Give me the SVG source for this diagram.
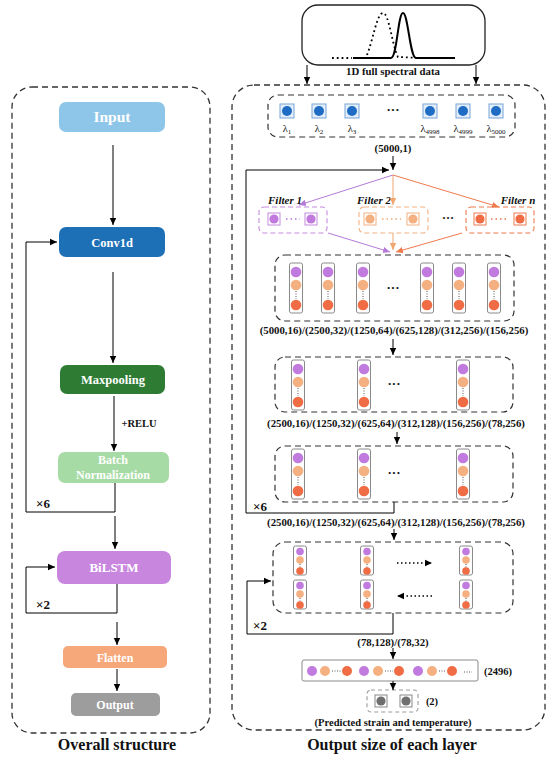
<svg xmlns="http://www.w3.org/2000/svg" xmlns:xlink="http://www.w3.org/1999/xlink" width="550" height="759" viewBox="0 0 550 759">
<style>
.panel{fill:none;stroke:#333;stroke-width:1.3;stroke-dasharray:6 4}
.dbox{fill:none;stroke:#333;stroke-width:1.2;stroke-dasharray:6 4}
.ln{fill:none;stroke:#000;stroke-width:1}
.bt{font-family:"Liberation Serif",serif;font-weight:bold;fill:#fff;text-anchor:middle}
.lb{font-family:"Liberation Serif",serif;font-weight:bold;fill:#111;text-anchor:middle}
.title{font-family:"Liberation Serif",serif;font-weight:bold;font-size:16px;fill:#111;text-anchor:middle}
.fl{font-family:"Liberation Serif",serif;font-weight:bold;font-style:italic;font-size:11px;fill:#111;text-anchor:middle}
.pu{fill:#c17ade}.lo{fill:#f5b081}.ro{fill:#f06c45}
.crect{fill:#fff;stroke:#8a8a8a;stroke-width:1}
.dots{stroke:#555;stroke-width:1;stroke-dasharray:1 1.5}
</style>
<defs>
<marker id="ah" markerWidth="8" markerHeight="8" refX="7" refY="4" orient="auto" markerUnits="userSpaceOnUse"><path d="M0,0.8 L7,4 L0,7.2 Z" fill="#000"/></marker>
<marker id="ahp" markerWidth="8" markerHeight="8" refX="7" refY="4" orient="auto" markerUnits="userSpaceOnUse"><path d="M0,0.8 L7,4 L0,7.2 Z" fill="#b57ad8"/></marker>
<marker id="ahl" markerWidth="8" markerHeight="8" refX="7" refY="4" orient="auto" markerUnits="userSpaceOnUse"><path d="M0,0.8 L7,4 L0,7.2 Z" fill="#f2a66f"/></marker>
<marker id="ahr" markerWidth="8" markerHeight="8" refX="7" refY="4" orient="auto" markerUnits="userSpaceOnUse"><path d="M0,0.8 L7,4 L0,7.2 Z" fill="#ef7a4e"/></marker>
<g id="col">
<rect class="crect" x="-6.5" y="0" width="13" height="50" rx="2"/>
<circle class="pu" cx="0" cy="9" r="5.3"/>
<circle class="lo" cx="0" cy="22" r="5.3"/>
<line class="dots" x1="0" y1="28" x2="0" y2="36"/>
<circle class="ro" cx="0" cy="42" r="5.3"/>
</g>
<g id="scol">
<rect class="crect" x="-6.5" y="0" width="13" height="29" rx="2"/>
<circle class="pu" cx="0" cy="5.5" r="3.8"/>
<circle class="lo" cx="0" cy="14" r="3.8"/>
<line class="dots" x1="0" y1="18" x2="0" y2="22"/>
<circle class="ro" cx="0" cy="25" r="3.8"/>
</g>
<g id="wsq">
<rect x="-7" y="-7" width="14" height="14" fill="#e4eef9" stroke="#7aa6d8" stroke-width="1"/>
<circle cx="0" cy="0" r="5" fill="#1f6cc4"/>
</g>
</defs>

<!-- LEFT PANEL -->
<rect class="panel" x="12" y="87" width="198" height="646" rx="20"/>
<text class="title" x="117" y="750">Overall structure</text>

<g id="connectors-left">
<line class="ln" x1="113" y1="145" x2="113" y2="225" marker-end="url(#ah)"/>
<line class="ln" x1="113" y1="272" x2="113" y2="363" marker-end="url(#ah)"/>
<line class="ln" x1="114" y1="396" x2="114" y2="451" marker-end="url(#ah)"/>
<polyline class="ln" points="115,483 115,512 26,512 26,242 57,242" marker-end="url(#ah)"/>
<line class="ln" x1="115" y1="516" x2="115" y2="549" marker-end="url(#ah)"/>
<polyline class="ln" points="117,584 117,613 26,613 26,567 55,567" marker-end="url(#ah)"/>
<line class="ln" x1="117" y1="622" x2="117" y2="645" marker-end="url(#ah)"/>
<line class="ln" x1="117" y1="669" x2="117" y2="691" marker-end="url(#ah)"/>
<text class="lb" x="139" y="427" font-size="10.5">+RELU</text>
<text class="lb" x="43" y="508" font-size="13">×6</text>
<text class="lb" x="43" y="609" font-size="13">×2</text>
</g>

<g id="n-input"><rect x="59" y="102" width="106" height="30" rx="7" fill="#8ec6e9"/><text class="bt" x="112" y="122" font-size="15.5">Input</text></g>
<g id="n-conv1d"><rect x="59" y="227" width="106" height="30" rx="7" fill="#1d6fb6"/><text class="bt" x="112" y="246.5" font-size="12.5">Conv1d</text></g>
<g id="n-maxpool"><rect x="60" y="365" width="105" height="29" rx="7" fill="#2e7b34"/><text class="bt" x="113" y="384" font-size="12.5">Maxpooling</text></g>
<g id="n-bn"><rect x="58" y="452" width="111" height="31" rx="7" fill="#a7dba5"/><text class="bt" x="113" y="464" font-size="12">Batch</text><text class="bt" x="113" y="479" font-size="12">Normalization</text></g>
<g id="n-bilstm"><rect x="57" y="551" width="114" height="33" rx="8" fill="#c886df"/><text class="bt" x="114" y="572" font-size="13">BiLSTM</text></g>
<g id="n-flatten"><rect x="63" y="646" width="104" height="22" rx="5" fill="#f7a87b"/><text class="bt" x="115" y="661.5" font-size="12">Flatten</text></g>
<g id="n-output"><rect x="71" y="693" width="89" height="23" rx="5" fill="#9d9d9d"/><text class="bt" x="115" y="709" font-size="12">Output</text></g>

<!-- RIGHT PANEL -->
<rect class="panel" x="232" y="85" width="313" height="645" rx="22"/>
<text class="title" x="392" y="750">Output size of each layer</text>

<g id="n-spectrum">
<rect x="302" y="5" width="183" height="60" rx="16" fill="#fff" stroke="#222" stroke-width="1.3"/>
<path d="M353,58 L391,58 C397,58 398,13 403,13 C408,13 410,58 416,58 L455,58" fill="none" stroke="#000" stroke-width="2"/>
<path d="M332,58 L352,58 M367,55 C373,40 377,13 383,13 C389,13 392,45 398,57 L420,58" fill="none" stroke="#000" stroke-width="1.8" stroke-dasharray="1.8 3"/>
<text class="lb" x="393" y="75" font-size="10.8">1D full spectral data</text>
</g>

<g id="n-wavelengths">
<rect class="dbox" x="268" y="95" width="247" height="42" rx="10"/>
<use xlink:href="#wsq" x="287" y="111"/>
<use xlink:href="#wsq" x="319" y="111"/>
<use xlink:href="#wsq" x="352" y="111"/>
<use xlink:href="#wsq" x="430" y="111"/>
<use xlink:href="#wsq" x="463" y="111"/>
<use xlink:href="#wsq" x="496" y="111"/>
<text class="lb" x="393" y="114" font-size="13" font-weight="normal">···</text>
<g font-family="Liberation Serif,serif" font-size="10.5" fill="#111" text-anchor="middle">
<text x="287" y="132">λ<tspan font-size="7" dy="2">1</tspan></text>
<text x="319" y="132">λ<tspan font-size="7" dy="2">2</tspan></text>
<text x="352" y="132">λ<tspan font-size="7" dy="2">3</tspan></text>
<text x="430" y="132">λ<tspan font-size="7" dy="2">4998</tspan></text>
<text x="463" y="132">λ<tspan font-size="7" dy="2">4999</tspan></text>
<text x="496" y="132">λ<tspan font-size="7" dy="2">5000</tspan></text>
</g>
</g>

<g id="n-filters">
<text class="fl" x="285" y="204">Filter 1</text>
<text class="fl" x="374" y="204">Filter 2</text>
<text class="fl" x="518" y="204">Filter n</text>
<rect x="259" y="207" width="68" height="26" rx="5" fill="none" stroke="#c58be0" stroke-width="1.1" stroke-dasharray="5 3"/>
<rect x="268" y="213" width="12" height="12" fill="none" stroke="#c58be0"/><circle class="pu" cx="274" cy="219" r="4.6"/>
<rect x="305" y="213" width="12" height="12" fill="none" stroke="#c58be0"/><circle class="pu" cx="311" cy="219" r="4.6"/>
<line x1="286" y1="219" x2="300" y2="219" stroke="#b57ad8" stroke-width="1.5" stroke-dasharray="1.5 3"/>
<rect x="359" y="207" width="69" height="26" rx="5" fill="none" stroke="#f4b183" stroke-width="1.1" stroke-dasharray="5 3"/>
<rect x="364" y="213" width="12" height="12" fill="none" stroke="#f4b183"/><circle class="lo" cx="370" cy="219" r="4.6"/>
<rect x="407" y="213" width="12" height="12" fill="none" stroke="#f4b183"/><circle class="lo" cx="413" cy="219" r="4.6"/>
<line x1="382" y1="219" x2="401" y2="219" stroke="#f2a66f" stroke-width="1.5" stroke-dasharray="1.5 3"/>
<text class="lb" x="448" y="222" font-size="12">···</text>
<rect x="466" y="207" width="68" height="26" rx="5" fill="none" stroke="#ef7a4e" stroke-width="1.1" stroke-dasharray="5 3"/>
<rect x="474" y="213" width="12" height="12" fill="none" stroke="#ef7a4e"/><circle class="ro" cx="480" cy="219" r="4.6"/>
<rect x="514" y="213" width="12" height="12" fill="none" stroke="#ef7a4e"/><circle class="ro" cx="520" cy="219" r="4.6"/>
<line x1="491" y1="219" x2="509" y2="219" stroke="#ef7a4e" stroke-width="1.5" stroke-dasharray="1.5 3"/>
</g>

<g id="n-conv-out">
<rect class="dbox" x="275" y="255" width="239" height="66" rx="10"/>
<use xlink:href="#col" x="296" y="263"/>
<use xlink:href="#col" x="328" y="263"/>
<use xlink:href="#col" x="363" y="263"/>
<use xlink:href="#col" x="427" y="263"/>
<use xlink:href="#col" x="459" y="263"/>
<use xlink:href="#col" x="494" y="263"/>
<text class="lb" x="393" y="292" font-size="13" font-weight="normal">···</text>
</g>

<g id="n-pool-out">
<rect class="dbox" x="275" y="357" width="238" height="55" rx="10"/>
<use xlink:href="#col" x="298" y="360"/>
<use xlink:href="#col" x="364" y="360"/>
<use xlink:href="#col" x="463" y="360"/>
<text class="lb" x="394" y="388" font-size="13" font-weight="normal">···</text>
</g>

<g id="n-bn-out">
<rect class="dbox" x="275" y="446" width="238" height="56" rx="10"/>
<use xlink:href="#col" x="298" y="449"/>
<use xlink:href="#col" x="364" y="449"/>
<use xlink:href="#col" x="463" y="449"/>
<text class="lb" x="394" y="477" font-size="13" font-weight="normal">···</text>
</g>

<g id="n-bilstm-out">
<rect class="dbox" x="273" y="542" width="240" height="71" rx="12"/>
<use xlink:href="#scol" x="300" y="546"/>
<use xlink:href="#scol" x="367" y="546"/>
<use xlink:href="#scol" x="466" y="546"/>
<use xlink:href="#scol" x="300" y="580"/>
<use xlink:href="#scol" x="367" y="580"/>
<use xlink:href="#scol" x="466" y="580"/>
</g>

<g id="n-flatten-out">
<rect x="302" y="660" width="176" height="21" rx="2" fill="#fff" stroke="#8a8a8a"/>
<circle class="pu" cx="312" cy="671" r="5"/><circle class="lo" cx="325" cy="671" r="5"/>
<line class="dots" x1="332" y1="671" x2="341" y2="671"/><circle class="ro" cx="347" cy="671" r="5"/>
<circle class="pu" cx="364" cy="671" r="5"/><circle class="lo" cx="378" cy="671" r="5"/>
<line class="dots" x1="385" y1="671" x2="393" y2="671"/><circle class="ro" cx="399" cy="671" r="5"/>
<circle class="pu" cx="418" cy="671" r="5"/><circle class="lo" cx="432" cy="671" r="5"/>
<line class="dots" x1="439" y1="671" x2="446" y2="671"/><circle class="ro" cx="452" cy="671" r="5"/>
<line class="dots" x1="464" y1="672" x2="472" y2="672"/>
<text class="lb" x="498" y="675" font-size="10.5">(2496)</text>
</g>

<g id="n-final">
<rect x="367" y="690" width="51" height="22" rx="4" fill="none" stroke="#999" stroke-width="1.1" stroke-dasharray="4 3"/>
<rect x="375" y="695" width="12" height="12" fill="#fff" stroke="#888"/><circle cx="381" cy="701" r="4.6" fill="#6f6f6f"/>
<rect x="400" y="695" width="12" height="12" fill="#fff" stroke="#888"/><circle cx="406" cy="701" r="4.6" fill="#6f6f6f"/>
<text class="lb" x="432" y="705" font-size="10.5">(2)</text>
<text class="lb" x="393" y="726" font-size="10.5">(Predicted strain and temperature)</text>
</g>

<g id="connectors-right">
<line class="ln" x1="307" y1="65" x2="307" y2="84" marker-end="url(#ah)"/>
<line class="ln" x1="476" y1="65" x2="476" y2="84" marker-end="url(#ah)"/>
<text class="lb" x="393" y="152" font-size="10.8">(5000,1)</text>
<line class="ln" x1="393" y1="156" x2="393" y2="170" marker-end="url(#ah)"/>
<polyline class="ln" points="394,502 394,513 246,513 246,170 389,170" marker-end="url(#ah)"/>
<text class="lb" x="260" y="511" font-size="13">×6</text>
<line x1="393" y1="175" x2="299" y2="205" stroke="#b57ad8" stroke-width="1" marker-end="url(#ahp)"/>
<line x1="393" y1="175" x2="393" y2="205" stroke="#f2a66f" stroke-width="1" marker-end="url(#ahl)"/>
<line x1="393" y1="175" x2="499" y2="207" stroke="#ef7a4e" stroke-width="1" marker-end="url(#ahr)"/>
<line x1="328" y1="233" x2="390" y2="252" stroke="#b57ad8" stroke-width="1" marker-end="url(#ahp)"/>
<line x1="393" y1="233" x2="393" y2="250" stroke="#f2a66f" stroke-width="1" marker-end="url(#ahl)"/>
<line x1="462" y1="233" x2="396" y2="252" stroke="#ef7a4e" stroke-width="1" marker-end="url(#ahr)"/>
<text class="lb" x="394" y="334" font-size="10.8">(5000,16)/(2500,32)/(1250,64)/(625,128)/(312,256)/(156,256)</text>
<line class="ln" x1="393" y1="339" x2="393" y2="355" marker-end="url(#ah)"/>
<text class="lb" x="396" y="427" font-size="10.8">(2500,16)/(1250,32)/(625,64)/(312,128)/(156,256)/(78,256)</text>
<line class="ln" x1="397" y1="432" x2="397" y2="444" marker-end="url(#ah)"/>
<text class="lb" x="396" y="526" font-size="10.8">(2500,16)/(1250,32)/(625,64)/(312,128)/(156,256)/(78,256)</text>
<line class="ln" x1="394" y1="529" x2="394" y2="540" marker-end="url(#ah)"/>
<line x1="397" y1="563" x2="432" y2="563" stroke="#000" stroke-width="1.5" stroke-dasharray="1.5 2.5" marker-end="url(#ah)"/>
<line x1="432" y1="596" x2="397" y2="596" stroke="#000" stroke-width="1.5" stroke-dasharray="1.5 2.5" marker-end="url(#ah)"/>
<polyline class="ln" points="393,613 393,634 247,634 247,581 271,581" marker-end="url(#ah)"/>
<text class="lb" x="260" y="630" font-size="13">×2</text>
<text class="lb" x="393" y="646" font-size="10.8">(78,128)/(78,32)</text>
<line class="ln" x1="393" y1="648" x2="393" y2="659" marker-end="url(#ah)"/>
<line class="ln" x1="393" y1="681" x2="393" y2="690" marker-end="url(#ah)"/>
</g>
</svg>
